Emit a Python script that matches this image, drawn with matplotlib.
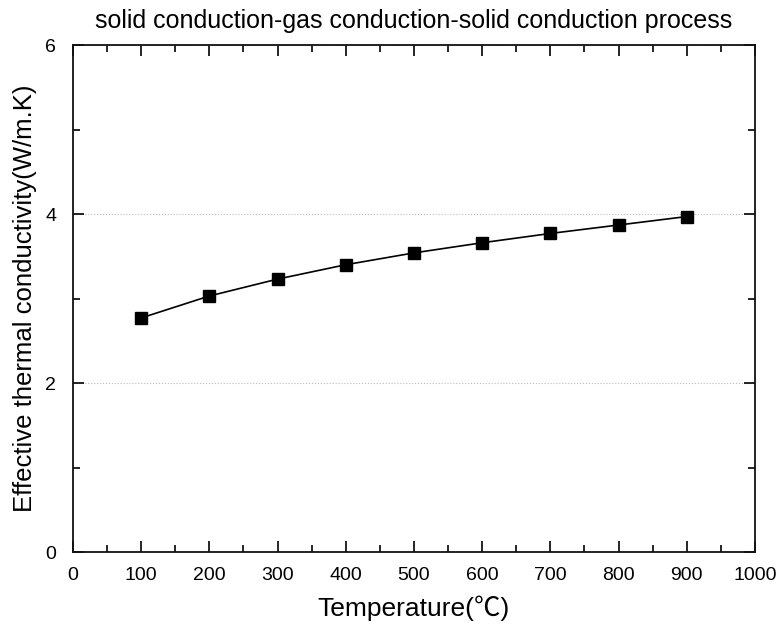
import matplotlib
matplotlib.use("Agg")
import matplotlib.pyplot as plt
from matplotlib.ticker import MultipleLocator

plt.rcParams['font.family'] = ['Liberation Sans', 'Noto Sans CJK SC', 'DejaVu Sans']

temperature = [100, 200, 300, 400, 500, 600, 700, 800, 900]
conductivity = [2.77, 3.03, 3.23, 3.40, 3.54, 3.66, 3.77, 3.87, 3.97]

title = "solid conduction-gas conduction-solid conduction process"
xlabel = "Temperature(℃)"
ylabel = "Effective thermal conductivity(W/m.K)"

fig = plt.figure(figsize=(7.78, 6.28), dpi=100)
ax = fig.add_axes([0.0938, 0.121, 0.8766, 0.8073])

ax.plot(temperature, conductivity, color='black', lw=1.2, marker='s',
        markersize=9, markerfacecolor='black', markeredgecolor='black')

ax.set_xlim(0, 1000)
ax.set_ylim(0, 6)
ax.xaxis.set_major_locator(MultipleLocator(100))
ax.xaxis.set_minor_locator(MultipleLocator(50))
ax.yaxis.set_major_locator(MultipleLocator(2))
ax.yaxis.set_minor_locator(MultipleLocator(1))
ax.tick_params(which='both', direction='in', top=True, right=True, labelsize=14, width=1.2)
ax.tick_params(which='major', length=8)
ax.tick_params(which='minor', length=5)
ax.tick_params(axis='x', pad=11)
ax.tick_params(axis='y', pad=12)
for s in ax.spines.values():
    s.set_linewidth(1.3)
    s.set_color('#111111')

ax.yaxis.grid(True, which='major', linestyle=':', color='#bbbbbb', lw=0.8)

ax.set_title(title, fontsize=18, pad=12)
ax.set_xlabel(xlabel, fontsize=19, labelpad=8)
ax.set_ylabel(ylabel, fontsize=18.5, labelpad=6)

fig.savefig("out.png", dpi=100)
